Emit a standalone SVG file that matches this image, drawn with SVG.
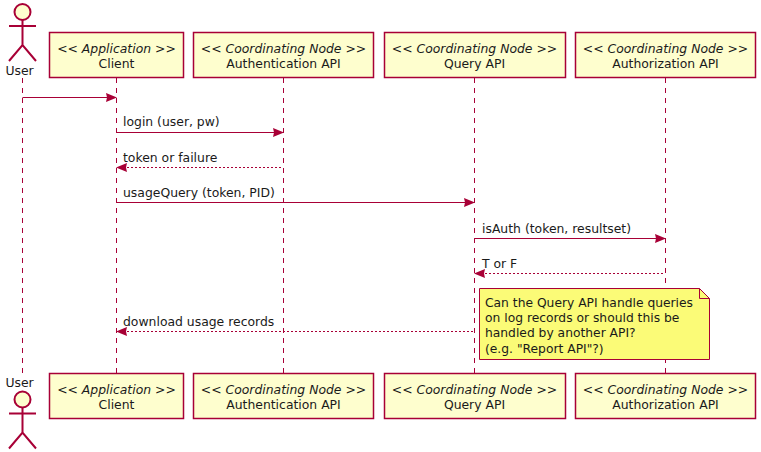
<svg xmlns="http://www.w3.org/2000/svg" width="761" height="452" viewBox="0 0 761 452">
<style>
text{font-family:"DejaVu Sans",sans-serif;font-size:12.4px;fill:#1a1a1a}
#note text{font-size:12.3px}
.c{text-anchor:middle}
.i{font-style:italic}
.box{fill:#fefece;stroke:#a80036;stroke-width:1.5}
.act{fill:none;stroke:#a80036;stroke-width:2}
.life{stroke:#a80036;stroke-width:1;stroke-dasharray:5,5;fill:none}
.msg{stroke:#a80036;stroke-width:1;fill:none}
.ret{stroke:#a80036;stroke-width:1;stroke-dasharray:2,2;fill:none}
.ah{fill:#a80036}
</style>
<defs>
<g id="actor"><circle cx="22.500" cy="12" r="8" fill="#fefece" stroke="#a80036" stroke-width="2"/><path class="act" d="M22.500 20V45M9 26H36M9 61L22.500 45L36 61"/></g>
</defs>
<g id="connectors">
<path class="life" d="M22.500 78V373M116.500 78V373M283.500 78V373M474.500 78V373M665.500 78V373"/>
<path class="msg" d="M22.500 97.500H110"/><path class="ah" d="M106 93L117 97.500L106 102L107 97.500Z"/>
<path class="msg" d="M116.500 132.500H277"/><path class="ah" d="M273 128L284 132.500L273 137L274 132.500Z"/>
<path class="ret" d="M123 167.500H283"/><path class="ah" d="M127 163L116 167.500L127 172L126 167.500Z"/>
<path class="msg" d="M116.500 202.500H468"/><path class="ah" d="M464 198L475 202.500L464 207L465 202.500Z"/>
<path class="msg" d="M474.500 238.500H659"/><path class="ah" d="M655 234L666 238.500L655 243L656 238.500Z"/>
<path class="ret" d="M481 273.500H665"/><path class="ah" d="M485 269L474 273.500L485 278L484 273.500Z"/>
<path class="ret" d="M123 331.500H474"/><path class="ah" d="M127 327L116 331.500L127 336L126 331.500Z"/>
<text x="123" y="126">login (user, pw)</text>
<text x="123" y="162">token or failure</text>
<text x="123" y="197">usageQuery (token, PID)</text>
<text x="482" y="233">isAuth (token, resultset)</text>
<text x="482" y="268">T or F</text>
<text x="123" y="326">download usage records</text>
</g>
<g id="user-top"><use href="#actor"/><text class="c" x="19.500" y="75">User</text></g>
<g id="client-top"><rect class="box" x="49.500" y="32.500" width="134" height="45"/><text class="c i" x="116.500" y="53">&lt;&lt; Application &gt;&gt;</text><text class="c" x="116.500" y="68">Client</text></g>
<g id="auth-top"><rect class="box" x="193.500" y="32.500" width="180" height="45"/><text class="c i" x="283.500" y="53">&lt;&lt; Coordinating Node &gt;&gt;</text><text class="c" x="283.500" y="68">Authentication API</text></g>
<g id="query-top"><rect class="box" x="384.500" y="32.500" width="181" height="45"/><text class="c i" x="474.500" y="53">&lt;&lt; Coordinating Node &gt;&gt;</text><text class="c" x="474.500" y="68">Query API</text></g>
<g id="authz-top"><rect class="box" x="575.500" y="32.500" width="180" height="45"/><text class="c i" x="665.500" y="53">&lt;&lt; Coordinating Node &gt;&gt;</text><text class="c" x="665.500" y="68">Authorization API</text></g>
<g id="note"><path d="M479.500 288.500H699.500L709.500 298.500V359.500H479.500Z" fill="#fbfb77" stroke="#a80036"/><path d="M699.500 288.500V298.500H709.500" fill="none" stroke="#a80036"/>
<text x="485" y="307">Can the Query API handle queries</text><text x="485" y="322">on log records or should this be</text><text x="485" y="337">handled by another API?</text><text x="485" y="353">(e.g. "Report API"?)</text></g>
<g id="user-bottom"><text class="c" x="19.500" y="387">User</text><use href="#actor" y="387.500"/></g>
<g id="client-bottom"><rect class="box" x="49.500" y="373.500" width="134" height="45"/><text class="c i" x="116.500" y="394">&lt;&lt; Application &gt;&gt;</text><text class="c" x="116.500" y="409">Client</text></g>
<g id="auth-bottom"><rect class="box" x="193.500" y="373.500" width="180" height="45"/><text class="c i" x="283.500" y="394">&lt;&lt; Coordinating Node &gt;&gt;</text><text class="c" x="283.500" y="409">Authentication API</text></g>
<g id="query-bottom"><rect class="box" x="384.500" y="373.500" width="181" height="45"/><text class="c i" x="474.500" y="394">&lt;&lt; Coordinating Node &gt;&gt;</text><text class="c" x="474.500" y="409">Query API</text></g>
<g id="authz-bottom"><rect class="box" x="575.500" y="373.500" width="180" height="45"/><text class="c i" x="665.500" y="394">&lt;&lt; Coordinating Node &gt;&gt;</text><text class="c" x="665.500" y="409">Authorization API</text></g>
</svg>
